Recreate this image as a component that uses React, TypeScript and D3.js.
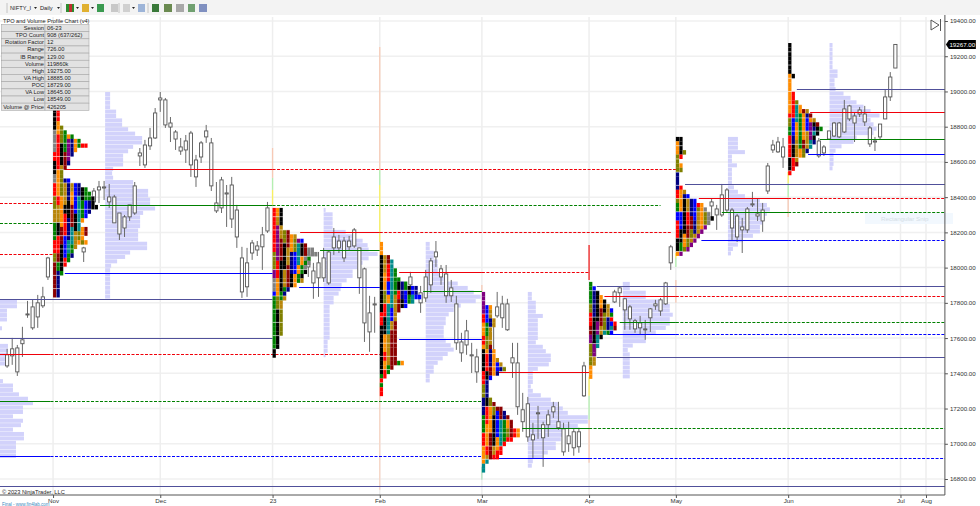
import React, { useEffect, useRef } from 'react'
import * as d3 from 'd3'

const WIDTH = 980
const HEIGHT = 506
const FONT = '"Liberation Sans", Arial, sans-serif'

// price axis
const priceTicks = [16800, 17000, 17200, 17400, 17600, 17800, 18000, 18200, 18400, 18600, 18800, 19000, 19200, 19400]
const monthBars = [10, 31, 53, 74, 94, 115, 132, 154, 176, 181]
const monthLabels = ['Nov', 'Dec', '23', 'Feb', 'Mar', 'Apr', 'May', 'Jun', 'Jul', 'Aug']
const LAST_BAR = 184.7
const lastPrice = 19267

// [bar, high, bodyTop, bodyBottom, low]
const candlesOct = [
  [1, 17539, 17505, 17442, 17431], [2, 17601, 17539, 17499, 17448], [3, 17561, 17544, 17408, 17385],
  [4, 17664, 17590, 17568, 17493], [5, 17811, 17737, 17732, 17715], [6, 17817, 17777, 17658, 17647],
  [7, 17845, 17800, 17720, 17658], [8, 17891, 17834, 17783, 17771], [9, 18061, 18055, 17947, 17930],
]
const candlesNov = [
  [16, 18118, 18112, 18089, 18032], [18, 18452, 18435, 18373, 18356], [19, 18492, 18458, 18441, 18367],
  [20, 18492, 18458, 18452, 18384], [21, 18475, 18401, 18373, 18339], [22, 18413, 18401, 18254, 18254],
  [23, 18310, 18310, 18191, 18157], [24, 18299, 18288, 18225, 18174], [25, 18356, 18356, 18288, 18265],
  [26, 18486, 18464, 18310, 18299], [27, 18679, 18651, 18634, 18577], [28, 18725, 18696, 18583, 18566],
  [29, 18793, 18736, 18691, 18668], [30, 18906, 18878, 18736, 18730],
]
const candlesDec = [
  [31, 18997, 18963, 18952, 18884], [32, 18963, 18952, 18810, 18793], [33, 18855, 18821, 18798, 18713],
  [34, 18781, 18770, 18730, 18668], [35, 18736, 18685, 18662, 18640], [36, 18753, 18719, 18668, 18594],
  [37, 18776, 18764, 18583, 18515], [38, 18640, 18611, 18515, 18458], [39, 18719, 18708, 18628, 18594],
  [40, 18810, 18776, 18742, 18708], [41, 18736, 18708, 18464, 18435], [42, 18486, 18367, 18322, 18310],
  [43, 18515, 18498, 18339, 18310], [44, 18469, 18424, 18418, 18231], [45, 18515, 18469, 18276, 18225],
  [46, 18356, 18327, 18174, 18112], [47, 18118, 18055, 17862, 17828], [48, 18112, 18027, 17891, 17834],
  [49, 18157, 18140, 18083, 18044], [50, 18151, 18123, 18100, 18066], [51, 18231, 18186, 18118, 17987],
  [52, 18373, 18339, 18208, 18197],
]
const candlesJan = [
  [60, 18089, 18072, 18004, 17947], [61, 18027, 17981, 17913, 17823], [62, 18089, 18027, 17942, 17834],
  [63, 18112, 18055, 17942, 17919], [64, 18100, 18089, 17913, 17902], [65, 18225, 18174, 18112, 18072],
  [66, 18186, 18151, 18112, 18083], [67, 18174, 18151, 18055, 18032], [68, 18180, 18151, 18118, 18100],
  [69, 18225, 18214, 18123, 18112], [70, 18112, 18112, 17942, 17851], [71, 18000, 17993, 17686, 17578],
  [72, 17840, 17743, 17635, 17522], [73, 17834, 17794, 17788, 17630],
]
const candlesFeb = [
  [80, 17976, 17947, 17902, 17834], [82, 17896, 17857, 17800, 17743], [83, 17987, 17947, 17828, 17805],
  [84, 18055, 18038, 17902, 17857], [85, 18151, 18089, 18061, 18004], [86, 18015, 17993, 17947, 17902],
  [87, 18015, 17964, 17840, 17800], [88, 17930, 17885, 17840, 17805], [89, 17840, 17794, 17573, 17533],
  [90, 17630, 17578, 17516, 17465], [91, 17703, 17641, 17561, 17505], [92, 17573, 17505, 17499, 17402],
  [93, 17539, 17493, 17408, 17346],
]
const candlesMar = [
  [96, 17675, 17675, 17522, 17516], [97, 17862, 17777, 17726, 17715], [98, 17840, 17794, 17715, 17658],
  [99, 17823, 17794, 17647, 17641], [100, 17573, 17488, 17459, 17374], [101, 17573, 17459, 17210, 17164],
  [102, 17289, 17193, 17125, 17068], [103, 17266, 17227, 17039, 17011], [104, 17119, 17051, 17022, 16920],
  [105, 17215, 17176, 17170, 17028], [106, 17125, 17108, 17034, 16869], [107, 17193, 17164, 17108, 17039],
  [108, 17238, 17210, 17181, 17147], [109, 17238, 17125, 17091, 17079], [110, 17119, 17085, 16954, 16932],
  [111, 17125, 17045, 17000, 16954], [112, 17085, 17068, 16977, 16932], [113, 17091, 17068, 16983, 16949],
  [114, 17465, 17442, 17272, 17266],
]
const candlesApr = [
  [116, 17635, 17578, 17499, 17493], [120, 17874, 17862, 17805, 17800], [121, 17891, 17885, 17857, 17777],
  [122, 17828, 17823, 17760, 17647], [123, 17788, 17777, 17709, 17647], [124, 17709, 17698, 17652, 17630],
  [125, 17726, 17686, 17658, 17618], [126, 17703, 17652, 17647, 17590], [127, 17771, 17766, 17715, 17635],
  [128, 17817, 17794, 17783, 17760], [129, 17828, 17817, 17754, 17726], [130, 17919, 17913, 17794, 17788],
  [131, 18129, 18118, 18027, 17987],
]
const candlesMay = [
  [139, 18395, 18373, 18350, 18288], [140, 18356, 18333, 18299, 18214], [141, 18475, 18413, 18299, 18288],
  [142, 18452, 18441, 18327, 18316], [143, 18339, 18327, 18225, 18157], [144, 18305, 18293, 18174, 18146],
  [145, 18282, 18231, 18214, 18083], [146, 18344, 18333, 18214, 18197], [147, 18430, 18362, 18356, 18344],
  [148, 18395, 18305, 18293, 18265], [149, 18367, 18327, 18265, 18203], [150, 18594, 18577, 18435, 18418],
  [151, 18725, 18696, 18668, 18651], [152, 18742, 18713, 18657, 18651], [153, 18736, 18685, 18628, 18566],
]
const candlesJun = [
  [160, 18736, 18719, 18634, 18623], [161, 18696, 18685, 18651, 18634], [162, 18776, 18776, 18730, 18725],
  [163, 18827, 18821, 18747, 18742], [164, 18827, 18821, 18742, 18736], [165, 18952, 18901, 18770, 18764],
  [166, 18924, 18918, 18844, 18832], [167, 18878, 18861, 18821, 18713], [168, 18912, 18895, 18872, 18855],
  [169, 18918, 18872, 18827, 18804], [170, 18804, 18793, 18702, 18685], [171, 18742, 18719, 18713, 18662],
  [172, 18815, 18815, 18742, 18730], [173, 19014, 18969, 18844, 18844], [174, 19110, 19082, 18969, 18946],
  [175, 19269, 19267, 19133, 19133],
]
const candles = [
  ...candlesOct, ...candlesNov, ...candlesDec, ...candlesJan, ...candlesFeb,
  ...candlesMar, ...candlesApr, ...candlesMay, ...candlesJun,
]

// volume at price, one number per 25 point row, top row first
const volOct = [34, 34, 14, 14, 14, 0, 4, 0, 0, 0, 16, 16, 16, 16, 16, 0, 0, 0, 6, 26, 26, 38, 56, 66, 46, 46, 26, 46, 42, 26, 48, 48, 32, 32, 32, 32]
const volNov = [10, 10, 10, 10, 22, 22, 34, 34, 46, 60, 74, 74, 56, 46, 36, 36, 36, 16, 14, 16, 56, 56, 86, 86, 90, 90, 100, 76, 70, 70, 70, 66, 66, 66, 84, 84, 50, 40, 24, 12, 10, 10, 10, 10, 10, 10, 10]
const volJan = [4, 18, 18, 18, 18, 44, 58, 78, 88, 90, 108, 90, 78, 68, 58, 58, 46, 36, 34, 30, 20, 20, 12, 12, 12, 12, 12, 12, 12, 12, 8, 8, 8, 4]
const volFeb = [8, 8, 16, 16, 24, 24, 24, 30, 36, 64, 84, 96, 110, 100, 70, 56, 46, 40, 40, 36, 36, 36, 40, 50, 56, 44, 34, 24, 16, 16, 8, 8]
const volMar = [8, 8, 16, 16, 16, 30, 20, 20, 20, 20, 20, 16, 30, 36, 46, 46, 42, 20, 10, 10, 10, 6, 10, 26, 46, 60, 70, 80, 120, 120, 100, 74, 74, 66, 56, 56, 40, 30, 10, 8]
const volApr = [14, 14, 46, 46, 80, 94, 94, 100, 94, 94, 86, 66, 46, 46, 20, 10, 14, 14, 14, 14, 14, 14]
const volMay = [20, 20, 20, 34, 8, 8, 18, 8, 8, 8, 8, 12, 20, 34, 64, 78, 84, 78, 74, 70, 64, 64, 50, 30, 20, 10, 6]
const volJun = [6, 6, 6, 6, 6, 6, 16, 16, 10, 10, 12, 28, 42, 54, 68, 82, 100, 82, 88, 94, 88, 54, 48, 24, 12, 8, 8, 8, 6]

// TPO rows, top row first, one letter per printed period
const tpoNov = ['KR', 'KR', 'KR', 'KO', 'KOY', 'AOYG', 'ARYGOG', 'ARYGPNOG', 'ARKGPNOGRR', 'ARKGPNO', 'RRKDPN', 'RRKDP', 'KRKDN', 'KRLD', 'KOY', 'AOY', 'AOYNB', 'ROYLNLBN', 'ROYLNLBNKG', 'ROYLNOBNKGG', 'YROLNOBTKGGK', 'YROLKOBTGBNK', 'YLOKKDBTGBNKK', 'LLOKKDBTGBN', 'LLORKDKTGB', 'LLORNDKTO', 'GKORNDKT', 'GKDRNTKTOD', 'GKDRNTLYOD', 'GRDBNTLYO', 'RRDBTTLOYO', 'RRKBTGL', 'RRKBTG', 'YDKBGN', 'YDKRG', 'DGKR', 'DGK', 'DNG', 'DN', 'DN', 'DN', 'DN', 'DN']
const tpoJan = ['ROK', 'ROK', 'RLK', 'RLK', 'RPL', 'RPLYD', 'RPLYDOL', 'RPDYDOYPB', 'RPDKDOYTKD', 'RPDKLOYTKDAA', 'YPDKLNBTKDAAA', 'YPDKLNBTOAG', 'YRKKLNBTOGA', 'YRKKDNBOGA', 'PRKLDNBOGK', 'PRKLDKOGK', 'AOKLDKOGL', 'AOKLDKO', 'AOKGN', 'BOGN', 'GYGL', 'GYL', 'GYL', 'GKY', 'GKY', 'GKY', 'GKY', 'GKY', 'GKY', 'GK', 'GK', 'GK', 'K', 'K']
const tpoFeb = ['O', 'O', 'O', 'KLD', 'KLDT', 'KLRT', 'KLRTG', 'KORTG', 'KORTGG', 'KOBTGKNG', 'KOBTGKNGKBN', 'KYBTGRNBKBN', 'KYOTLRNBGTBB', 'KYOTLDKBGT', 'KRTTLDKB', 'KRTBLD', 'RRTBL', 'RKTBL', 'RKTLD', 'KKTLD', 'KKTDD', 'KOLDD', 'KOLDD', 'KOLDD', 'KOLDD', 'KRLDD', 'KRLDD', 'KOLDDGO', 'KOGD', 'KRG', 'GR', 'R', 'G', 'R', 'R']
const tpoMar = ['P', 'P', 'P', 'PBO', 'PBL', 'RBL', 'RBNL', 'OGNL', 'OGL', 'OGL', 'RYL', 'RYL', 'OYD', 'KONO', 'KRNO', 'KRNOL', 'KRNOBL', 'KRDOBNY', 'RKDON', 'RKB', 'RN', 'YN', 'YN', 'YN', 'NKY', 'NKYD', 'NROYDD', 'NROYBDN', 'GROKBDND', 'GROKBTGOD', 'GOOKBTGOD', 'GOOKBTGYDRO', 'RODKBTGYDRO', 'RODKOTGRR', 'RODKOTR', 'ORDLOR', 'ORDLRR', 'OLDRR', 'OT', 'T', 'T']
const tpoApr = ['G', 'GB', 'GNK', 'GNKO', 'GNKOK', 'YNKOKL', 'YNKDKLB', 'RNKDYLG', 'RKKDYNR', 'RKPDYNBR', 'DKPLYNTD', 'DKPLTGB', 'PKTK', 'PKT', 'YPT', 'YP', 'YP', 'YL', 'YL', 'O', 'O', 'O']
const tpoMay = ['KK', 'OK', 'OK', 'OKY', 'YR', 'Y', 'YO', 'YY', 'N', 'N', 'N', 'NR', 'ROL', 'RONB', 'YOKLNB', 'GOKLNBRO', 'GOKLNBYOA', 'BBKRNBLOYA', 'BBKRDBLOYAK', 'RBKRDNLOYA', 'RBKDDNLOP', 'RKKDYNLP', 'RKODYLP', 'KKOYLP', 'KGOYP', 'KGYP', 'OP']
const tpoJun = ['K', 'K', 'K', 'K', 'K', 'K', 'K', 'OK', 'O', 'O', 'O', 'OR', 'OR', 'ORY', 'ORTO', 'ORTODL', 'RRTGOND', 'YBTGOBOL', 'YBOGOBPKD', 'GBOGOBPNKG', 'GBOGOLPTK', 'RNOGOLPK', 'RNLGDLTN', 'RKLGDLT', 'RKLOYN', 'RKLOY', 'KRL', 'KRD', 'KR', 'R']

// [bar, top price, rows]
const tpoSessions = [
  [10, 18906, tpoNov], [53, 18339, tpoJan], [74, 18146, tpoFeb], [94, 17862, tpoMar],
  [115, 17919, tpoApr], [132, 18742, tpoMay], [154, 19275, tpoJun],
]
// [bar, top price, rows]
const volSessions = [
  [-0.4, 17817, volOct], [20.2, 18997, volNov], [63, 18339, volJan], [83, 18146, volFeb],
  [103, 17862, volMar], [121.6, 17919, volApr], [142.2, 18742, volMay], [162.1, 19275, volJun],
]

const tpoColors = {
  K: '#000000', R: '#ff0000', D: '#8b0000', O: '#ff8c00', Y: '#808000', G: '#008000',
  B: '#0000ff', N: '#000080', P: '#800080', T: '#008b8b', A: '#808080', L: '#b8860b',
}

// [price, from bar, solid to bar, dashed to bar, colour]
const levels = [
  [19014, 155.7, LAST_BAR, LAST_BAR, 'navy'], [18885, 158.3, LAST_BAR, LAST_BAR, 'red'],
  [18729, 160.2, LAST_BAR, LAST_BAR, 'green'], [18645, 157.9, LAST_BAR, LAST_BAR, 'blue'],
  [18475, 133.8, LAST_BAR, LAST_BAR, 'navy'], [18393, 136.5, 154, LAST_BAR, 'red'],
  [18316, 141, 154, LAST_BAR, 'green'], [18157, 137, 154, LAST_BAR, 'blue'],
  [17896, 116.5, LAST_BAR, LAST_BAR, 'navy'], [17493, 116.5, LAST_BAR, LAST_BAR, 'navy'],
  [17840, 118, 132, LAST_BAR, 'red'], [17692, 121, 132, LAST_BAR, 'green'], [17624, 118.7, 132, LAST_BAR, 'blue'],
  [17408, 97.2, 115, 115, 'red'], [17091, 101.9, 115, LAST_BAR, 'green'], [16920, 95.6, 115, LAST_BAR, 'blue'],
  [16759, -1, LAST_BAR, LAST_BAR, 'navy'],
  [17976, 77.8, 94, 115, 'red'], [17868, 82.5, 94, 94, 'green'], [17595, 77.8, 94, 94, 'blue'],
  [18203, 58.4, 74, 131, 'red'], [18100, 62.3, 74, 74, 'green'], [17891, 58.2, 74, 74, 'blue'],
  [18560, 12.3, 53, 132, 'red'], [18358, 19.2, 53, 129, 'green'], [17967, 12.3, 53, 53, 'blue'],
  [17823, -1, 53, 53, 'navy'], [17601, -1, 53, 53, 'navy'],
  [17510, -1, 9.5, 74, 'red'], [17244, -1, 9.5, 94, 'green'], [16932, -1, 9.5, 94, 'blue'],
  [18364, -1, -1, 10, 'red'], [18254, -1, -1, 10, 'green'], [18078, -1, -1, 10, 'red'],
]
const levelColors = { navy: '#50509a', red: '#f0000a', green: '#008000', blue: '#0000ff' }

// [bar, top price, bottom price, colour]
const sessionMarks = [
  [53, 18679, 18509, '#f7c9b5'], [53, 18509, 18441, '#b4efb0'], [53, 18441, 18356, '#f8f060'],
  [74, 19252, 18554, '#f7cdb8'], [74, 18554, 18469, '#b4efb0'], [74, 18469, 18146, '#f8f060'], [74, 17346, 16739, '#f7d5c5'],
  [94, 17902, 17862, '#f7c9b5'], [94, 16869, 16796, '#b4e0c0'],
  [115, 18129, 17930, '#f02020'], [115, 17380, 17272, '#f8f060'], [115, 17272, 17136, '#b4efb0'], [115, 17136, 16892, '#f7c9b5'],
  [132, 18083, 18055, '#f8f060'], [132, 18055, 18004, '#b4efb0'], [132, 17930, 17800, '#f7c9b5'],
  [154, 18543, 18481, '#f8f060'], [154, 18481, 18401, '#b4efb0'], [154, 18401, 18288, '#f7c9b5'],
]

const statLabels = ['Session', 'TPO Count', 'Rotation Factor', 'Range', 'IB Range', 'Volume', 'High', 'VA High', 'POC', 'VA Low', 'Low', 'Volume @ Price']
const statValues = ['06-23', '908 (637/262)', '12', '726.00', '129.00', '119860k', '19275.00', '18885.00', '18729.00', '18645.00', '18549.00', '426205']

// x, width, colour of the toolbar buttons
const toolbarButtons = [
  [66, 3, '#2e8b2e'], [69, 3, '#c03030'], [72, 2, '#2e8b2e'], [82, 7, '#e0b030'], [97, 7, '#3a9a50'], [111, 7, '#c8c8c8'],
  [123, 7, '#d0d0d0'], [138, 7, '#9db4d8'], [152, 7, '#3a7a3a'], [164, 8, '#6a8a50'], [176, 8, '#a8a8a8'],
  [188, 7, '#70a070'], [199, 8, '#8090c0'],
]
const toolbarCarets = [34, 57, 76, 91, 132]
const toolbarSeparators = [7, 61, 119, 148]

function App() {
  const ref = useRef(null)

  useEffect(() => {
    const svg = d3.select(ref.current)
    svg.selectAll('*').remove()
    svg.style('font-family', FONT)

    const x = d3.scaleLinear().domain([0, 180]).range([2, 2 + 5.105 * 180])
    const y = d3.scaleLinear().domain([16800, 19400]).range([479, 21])
    const rowH = Math.abs(y(0) - y(25))
    const volW = d3.scaleLinear().domain([0, 100]).range([0, 50])
    const tpoW = d3.scaleLinear().domain([0, 1]).range([0, 3.47])
    const right = x(LAST_BAR)

    svg.append('rect').attr('width', WIDTH).attr('height', HEIGHT).attr('fill', '#fff')

    // grid
    svg.append('g').selectAll('line').data(priceTicks).join('line')
      .attr('x1', 0).attr('x2', right).attr('y1', (d) => y(d)).attr('y2', (d) => y(d))
      .attr('stroke', '#f0f0f0').attr('stroke-width', 1.5)
    svg.append('g').selectAll('line').data(monthBars).join('line')
      .attr('x1', (d) => x(d)).attr('x2', (d) => x(d)).attr('y1', 17).attr('y2', 495)
      .attr('stroke', '#eeeeee').attr('stroke-width', 1.5)

    // volume profiles
    volSessions.forEach(([bar, top, rows]) => {
      svg.append('g').selectAll('rect').data(rows).join('rect')
        .attr('x', x(bar))
        .attr('y', (d, i) => y(top - i * 25))
        .attr('width', (d) => volW(d))
        .attr('height', rowH - 0.4)
        .attr('fill', '#d2d2fb')
    })

    // session open markers
    svg.append('g').selectAll('line').data(sessionMarks).join('line')
      .attr('x1', (d) => x(d[0])).attr('x2', (d) => x(d[0]))
      .attr('y1', (d) => y(d[1])).attr('y2', (d) => y(d[2]))
      .attr('stroke', (d) => d[3]).attr('stroke-width', 1.3)

    // candles
    const candle = svg.append('g').selectAll('g').data(candles).join('g')
    candle.append('line')
      .attr('x1', (d) => x(d[0])).attr('x2', (d) => x(d[0]))
      .attr('y1', (d) => y(d[1])).attr('y2', (d) => y(d[4]))
      .attr('stroke', '#6a6a6a').attr('stroke-width', 1)
    candle.append('rect')
      .attr('x', (d) => x(d[0]) - 1.6)
      .attr('y', (d) => y(d[2]))
      .attr('width', 3.2)
      .attr('height', (d) => Math.max(1, y(d[3]) - y(d[2])))
      .attr('fill', '#fff').attr('stroke', '#555').attr('stroke-width', 0.9)

    // value area and POC levels
    const lev = svg.append('g')
    lev.selectAll('line.solid').data(levels.filter((d) => d[2] > d[1])).join('line')
      .attr('class', 'solid')
      .attr('x1', (d) => Math.max(0, x(d[1]))).attr('x2', (d) => x(d[2]))
      .attr('y1', (d) => Math.round(y(d[0])) + 0.5).attr('y2', (d) => Math.round(y(d[0])) + 0.5)
      .attr('stroke', (d) => levelColors[d[4]]).attr('stroke-width', 1.2)
    lev.selectAll('line.dash').data(levels.filter((d) => d[3] > d[2])).join('line')
      .attr('class', 'dash')
      .attr('x1', (d) => Math.max(0, x(d[2]))).attr('x2', (d) => x(d[3]))
      .attr('y1', (d) => Math.round(y(d[0])) + 0.5).attr('y2', (d) => Math.round(y(d[0])) + 0.5)
      .attr('stroke', (d) => levelColors[d[4]]).attr('stroke-width', 1.2)
      .attr('stroke-dasharray', '3,1.5')

    // TPO letters, with the thin white rules every third row
    tpoSessions.forEach(([bar, top, rows]) => {
      const g = svg.append('g')
      rows.forEach((row, r) => {
        g.selectAll(null).data(row.split('')).enter().append('rect')
          .attr('x', (d, c) => x(bar) + tpoW(c))
          .attr('y', y(top - r * 25))
          .attr('width', tpoW(1) - 0.2)
          .attr('height', rowH + 0.1)
          .attr('fill', (d) => tpoColors[d])
        if (r % 3 === 2) {
          g.append('line')
            .attr('x1', x(bar)).attr('x2', x(bar) + tpoW(row.length))
            .attr('y1', y(top - r * 25)).attr('y2', y(top - r * 25))
            .attr('stroke', '#fff').attr('stroke-width', 0.7).attr('stroke-opacity', 0.75)
        }
      })
    })

    // snip tooltip left on the screenshot
    svg.append('rect').attr('x', 865).attr('y', 213).attr('width', 88).attr('height', 11).attr('fill', '#f2f8fe')
    svg.append('text').attr('x', 881).attr('y', 220.5).attr('font-size', 6.2).attr('fill', '#d4dde6').text('Rectangular Snip')

    // axes
    const yAxis = svg.append('g').attr('transform', `translate(${right},0)`)
      .call(d3.axisRight(y).tickValues(priceTicks).tickFormat(d3.format('.2f')).tickSize(3))
    yAxis.select('.domain').attr('d', 'M0,14V495').attr('stroke', '#555')
    yAxis.selectAll('line').attr('stroke', '#555')
    yAxis.selectAll('text').attr('font-size', 6.2).attr('font-family', FONT).attr('fill', '#333').attr('x', 5)

    const xAxis = svg.append('g').attr('transform', 'translate(0,495)')
      .call(d3.axisBottom(x).tickValues(monthBars).tickFormat((d, i) => monthLabels[i]).tickSize(3))
    xAxis.select('.domain').attr('d', `M0,0H${right}`).attr('stroke', '#555')
    xAxis.selectAll('line').attr('stroke', '#555')
    xAxis.selectAll('text').attr('font-size', 6.2).attr('font-family', FONT).attr('fill', '#333').attr('y', 3.5)

    // last price tag
    const tagY = y(lastPrice)
    svg.append('path')
      .attr('d', d3.line()([[right + 1, tagY], [right + 4, tagY - 4.5], [right + 31, tagY - 4.5], [right + 31, tagY + 4.5], [right + 4, tagY + 4.5]]) + 'Z')
      .attr('fill', '#000')
    svg.append('text').attr('x', right + 4.5).attr('y', tagY + 2.3)
      .attr('font-size', 6.2).attr('fill', '#fff').text(d3.format('.2f')(lastPrice))

    // chart trader arrow
    svg.append('path').attr('d', 'M931,20L939,25L931,30Z').attr('fill', '#fff').attr('stroke', '#555')
    svg.append('line').attr('x1', 940.5).attr('x2', 940.5).attr('y1', 19).attr('y2', 31).attr('stroke', '#555')

    // toolbar
    const bar = svg.append('g')
    bar.append('rect').attr('width', WIDTH).attr('height', 15).attr('fill', '#f3f3f3')
    bar.append('text').attr('x', 10).attr('y', 10).attr('font-size', 5.7).attr('fill', '#222').text('NIFTY_I')
    bar.append('text').attr('x', 40).attr('y', 10).attr('font-size', 5.7).attr('fill', '#222').text('Daily')
    bar.selectAll('rect.btn').data(toolbarButtons).join('rect')
      .attr('class', 'btn')
      .attr('x', (d) => d[0]).attr('y', 4).attr('width', (d) => d[1]).attr('height', 8).attr('fill', (d) => d[2])
    bar.selectAll('path.caret').data(toolbarCarets).join('path')
      .attr('class', 'caret')
      .attr('d', (d) => `M${d},7h3l-1.5,2Z`).attr('fill', '#222')
    bar.selectAll('line.sep').data(toolbarSeparators).join('line')
      .attr('class', 'sep')
      .attr('x1', (d) => d).attr('x2', (d) => d).attr('y1', 3).attr('y2', 13)
      .attr('stroke', '#c4c4c4').attr('stroke-width', 1)

    // stats table
    const table = svg.append('g')
    const rowY = d3.scaleLinear().domain([0, 1]).range([24.5, 31.65])
    table.append('text').attr('x', 3).attr('y', 22.8).attr('font-size', 5.6).attr('fill', '#222')
      .text('TPO and Volume Profile Chart (v4)')
    statLabels.forEach((label, i) => {
      table.append('rect').attr('x', 1.5).attr('y', rowY(i)).attr('width', 43.5).attr('height', 7.15)
        .attr('fill', '#e2e2e2').attr('stroke', '#a8a8a8').attr('stroke-width', 0.6)
      table.append('rect').attr('x', 45).attr('y', rowY(i)).attr('width', 44).attr('height', 7.15)
        .attr('fill', '#e2e2e2').attr('stroke', '#a8a8a8').attr('stroke-width', 0.6)
      table.append('text').attr('x', 44).attr('y', rowY(i) + 5.4).attr('text-anchor', 'end')
        .attr('font-size', 5.7).attr('fill', '#222').text(label)
      table.append('text').attr('x', 47).attr('y', rowY(i) + 5.4)
        .attr('font-size', 5.7).attr('fill', '#222').text(statValues[i])
    })

    // footer text
    svg.append('text').attr('x', 2).attr('y', 493.5).attr('font-size', 5.7).attr('fill', '#222').text('© 2023 NinjaTrader, LLC')
    svg.append('text').attr('x', 2).attr('y', 506).attr('font-size', 4.5).attr('fill', '#3a8ac0').text('Final - www.fin4lab.com')
  }, [])

  return (
    <svg
      ref={ref}
      width={WIDTH}
      height={HEIGHT}
      style={{ position: 'absolute', left: 0, top: 0, display: 'block' }}
    />
  )
}

export default App
